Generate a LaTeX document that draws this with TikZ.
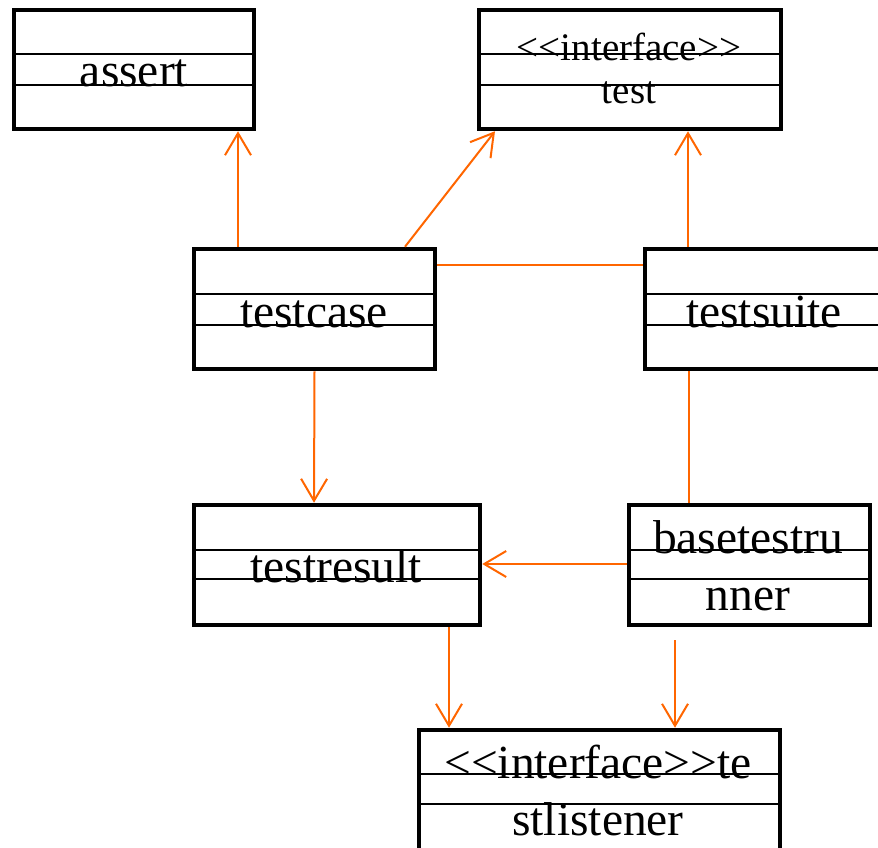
\documentclass[tikz,border=0pt]{standalone}
\usepackage{fontspec}
\setmainfont{Liberation Serif}[Ligatures=TeXOff]
\usetikzlibrary{arrows.meta}
\definecolor{conn}{RGB}{255,102,0}
\tikzset{
  umlbox/.style={draw=black, line width=4.5pt, rectangle, inner sep=0pt, fill=none},
  divider/.style={draw=black, line width=2.4pt},
  big/.style={font=\fontsize{47.5}{50}\selectfont, inner sep=0pt, anchor=base},
  small/.style={font=\fontsize{39}{42}\selectfont, inner sep=0pt, anchor=base},
  link/.style={draw=conn, line width=2pt},
  arr/.style={link, -{Straight Barb[length=22pt, width=26pt, line width=2pt]}},
}
\begin{document}
\begin{tikzpicture}[x=1pt, y=-1pt]
\useasboundingbox (0,0) rectangle (878,848);
\clip (0,0) rectangle (878,848);
\fill[white] (0,0) rectangle (878,848);

% boxes
\node[umlbox, minimum width=240pt, minimum height=119pt] (assert) at (134,69.5) {};
\node[umlbox, minimum width=302pt, minimum height=119pt] (test) at (630,69.5) {};
\node[umlbox, minimum width=241pt, minimum height=120pt] (testcase) at (314.5,309) {};
\node[umlbox, minimum width=240pt, minimum height=120pt] (testsuite) at (765,309) {};
\node[umlbox, minimum width=286pt, minimum height=120pt] (testresult) at (337,565) {};
\node[umlbox, minimum width=241pt, minimum height=120pt] (runner) at (749.5,565) {};
\node[umlbox, minimum width=361pt, minimum height=120pt] (listener) at (599.5,790) {};

% compartment dividers
\draw[divider] (14,54) -- (254,54) (14,85) -- (254,85);
\draw[divider] (479,54) -- (781,54) (479,85) -- (781,85);
\draw[divider] (194,294) -- (435,294) (194,325) -- (435,325);
\draw[divider] (645,294) -- (885,294) (645,325) -- (885,325);
\draw[divider] (194,550) -- (480,550) (194,579) -- (480,579);
\draw[divider] (629,550) -- (870,550) (629,579) -- (870,579);
\draw[divider] (419,774) -- (780,774) (419,804) -- (780,804);

% texts
\node[big] (tassert) at (134,87) {assert};
\node[small] (ttest1) at (629,61) {<<interface>>};
\node[small] (ttest2) at (629,104) {test};
\node[big] (ttestcase) at (314,327) {testcase};
\node[big] (ttestsuite) at (764,327) {testsuite};
\node[big] (ttestresult) at (336,582) {testresult};
\node[big] (trunner1) at (748,553) {basetestru};
\node[big] (trunner2) at (748,610) {nner};
\node[big] (tlist1) at (598,778) {<<interface>>te};
\node[big] (tlist2) at (598,835) {stlistener};

% connectors
\draw[arr] ([xshift=-76.5pt]testcase.north) -- ([xshift=104pt]assert.south);
\draw[arr] ([xshift=90.5pt]testcase.north) -- ([xshift=-135pt]test.south);
\draw[arr] ([xshift=-77pt]testsuite.north) -- ([xshift=58pt]test.south);
\draw[link] ([yshift=44pt]testcase.east) -- ([yshift=44pt]testsuite.west);
\draw[arr] (testcase.south) -- ([xshift=-23pt]testresult.north);
\draw[link] ([xshift=-76pt]testsuite.south) -- ([xshift=-60.5pt]runner.north);
\draw[arr] ([yshift=1pt]runner.west) -- ([yshift=1pt]testresult.east);
\draw[arr] ([xshift=112pt]testresult.south) -- ([xshift=-150.5pt]listener.north);
\coordinate (runfree) at ([xshift=-74.5pt, yshift=-13pt]runner.south);
\draw[arr] (runfree) -- ([xshift=75.5pt]listener.north);
\end{tikzpicture}
\end{document}
